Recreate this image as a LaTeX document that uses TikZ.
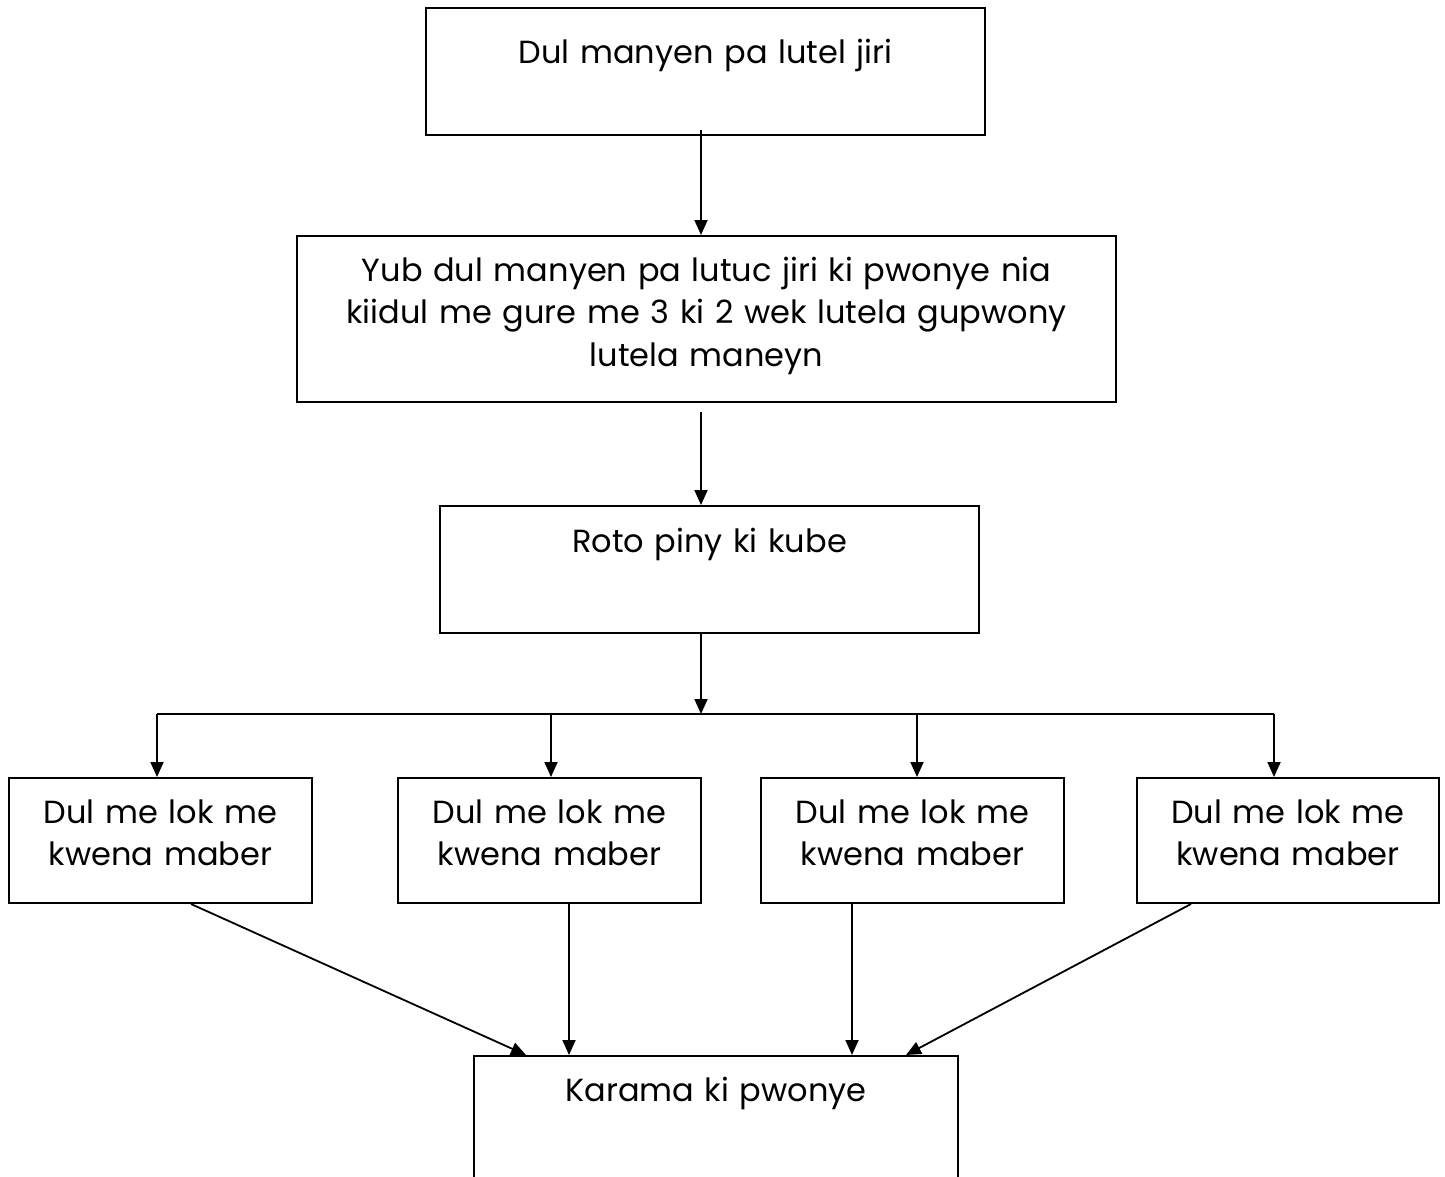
\documentclass[tikz,border=0pt]{standalone}
\usepackage{fontspec}
\setmainfont{Poppins}
\usetikzlibrary{positioning,calc,arrows.meta}

\tikzset{
  box/.style={draw, line width=1pt, anchor=north west, inner sep=0pt, align=center,
    font=\fontsize{16pt}{21.25pt}\selectfont},
  arr/.style={-{Triangle[length=7.5pt,width=6.5pt]}, line width=0.9pt}
}

\begin{document}
\begin{tikzpicture}[x=0.5pt,y=-0.5pt]
\clip (0,0) rectangle (1445,1177);
\node[box, text width=279.5pt, text height=28pt, text depth=35.5pt] (top) at (425,7) {Dul manyen pa lutel jiri};
\node[box, text width=409.5pt, text height=22.5pt, text depth=60.5pt] (mid) at (296,235)
  {Yub dul manyen pa lutuc jiri ki pwonye nia\\kiidul me gure me 3 ki 2 wek lutela gupwony\\lutela maneyn};
\node[box, text width=269.5pt, text height=23pt, text depth=40.5pt] (roto) at (439,505) {Roto piny ki kube};
\node[box, text width=151.5pt, text height=22.5pt, text depth=40pt] (a) at (8,777) {Dul me lok me\\kwena maber};
\node[box, text width=151.5pt, text height=22.5pt, text depth=40pt] (b) at (397,777) {Dul me lok me\\kwena maber};
\node[box, text width=151.5pt, text height=22.5pt, text depth=40pt] (c) at (760,777) {Dul me lok me\\kwena maber};
\node[box, text width=151pt, text height=22.5pt, text depth=40pt] (d) at (1136,777) {Dul me lok me\\kwena maber};
\node[box, text width=242pt, text height=22.5pt, text depth=50pt] (kar) at (473,1055) {Karama ki pwonye};

\draw[arr] ($(top.south)+(-4.5,-6)$) -- ($(mid.north)+(-5.5,0)$);
\draw[arr] ($(mid.south)+(-5.5,9)$) -- ($(roto.north)+(-8.5,0)$);
\coordinate (split) at ($(roto.south)+(-8.5,80)$);
\draw[arr] ($(roto.south)+(-8.5,-2)$) -- (split);
\draw[line width=0.9pt] ($(split -| a.north)+(-3.5,0)$) -- ($(split -| d.north)+(-14,0)$);
\draw[arr] ($(split -| a.north)+(-3.5,0)$) -- ($(a.north)+(-3.5,0)$);
\draw[arr] ($(split -| b.north)+(1.5,0)$) -- ($(b.north)+(1.5,0)$);
\draw[arr] ($(split -| c.north)+(4.5,0)$) -- ($(c.north)+(4.5,0)$);
\draw[arr] ($(split -| d.north)+(-14,0)$) -- ($(d.north)+(-14,0)$);

\draw[arr] ($(a.south)+(30.5,0)$) -- ($(kar.north)+(-190,0)$);
\draw[arr] ($(b.south)+(19.5,0)$) -- ($(kar.north)+(-147,0)$);
\draw[arr] ($(c.south)+(-60.5,0)$) -- ($(kar.north)+(136,0)$);
\draw[arr] ($(d.south)+(-97,0)$) -- ($(kar.north)+(190,0)$);
\end{tikzpicture}
\end{document}
